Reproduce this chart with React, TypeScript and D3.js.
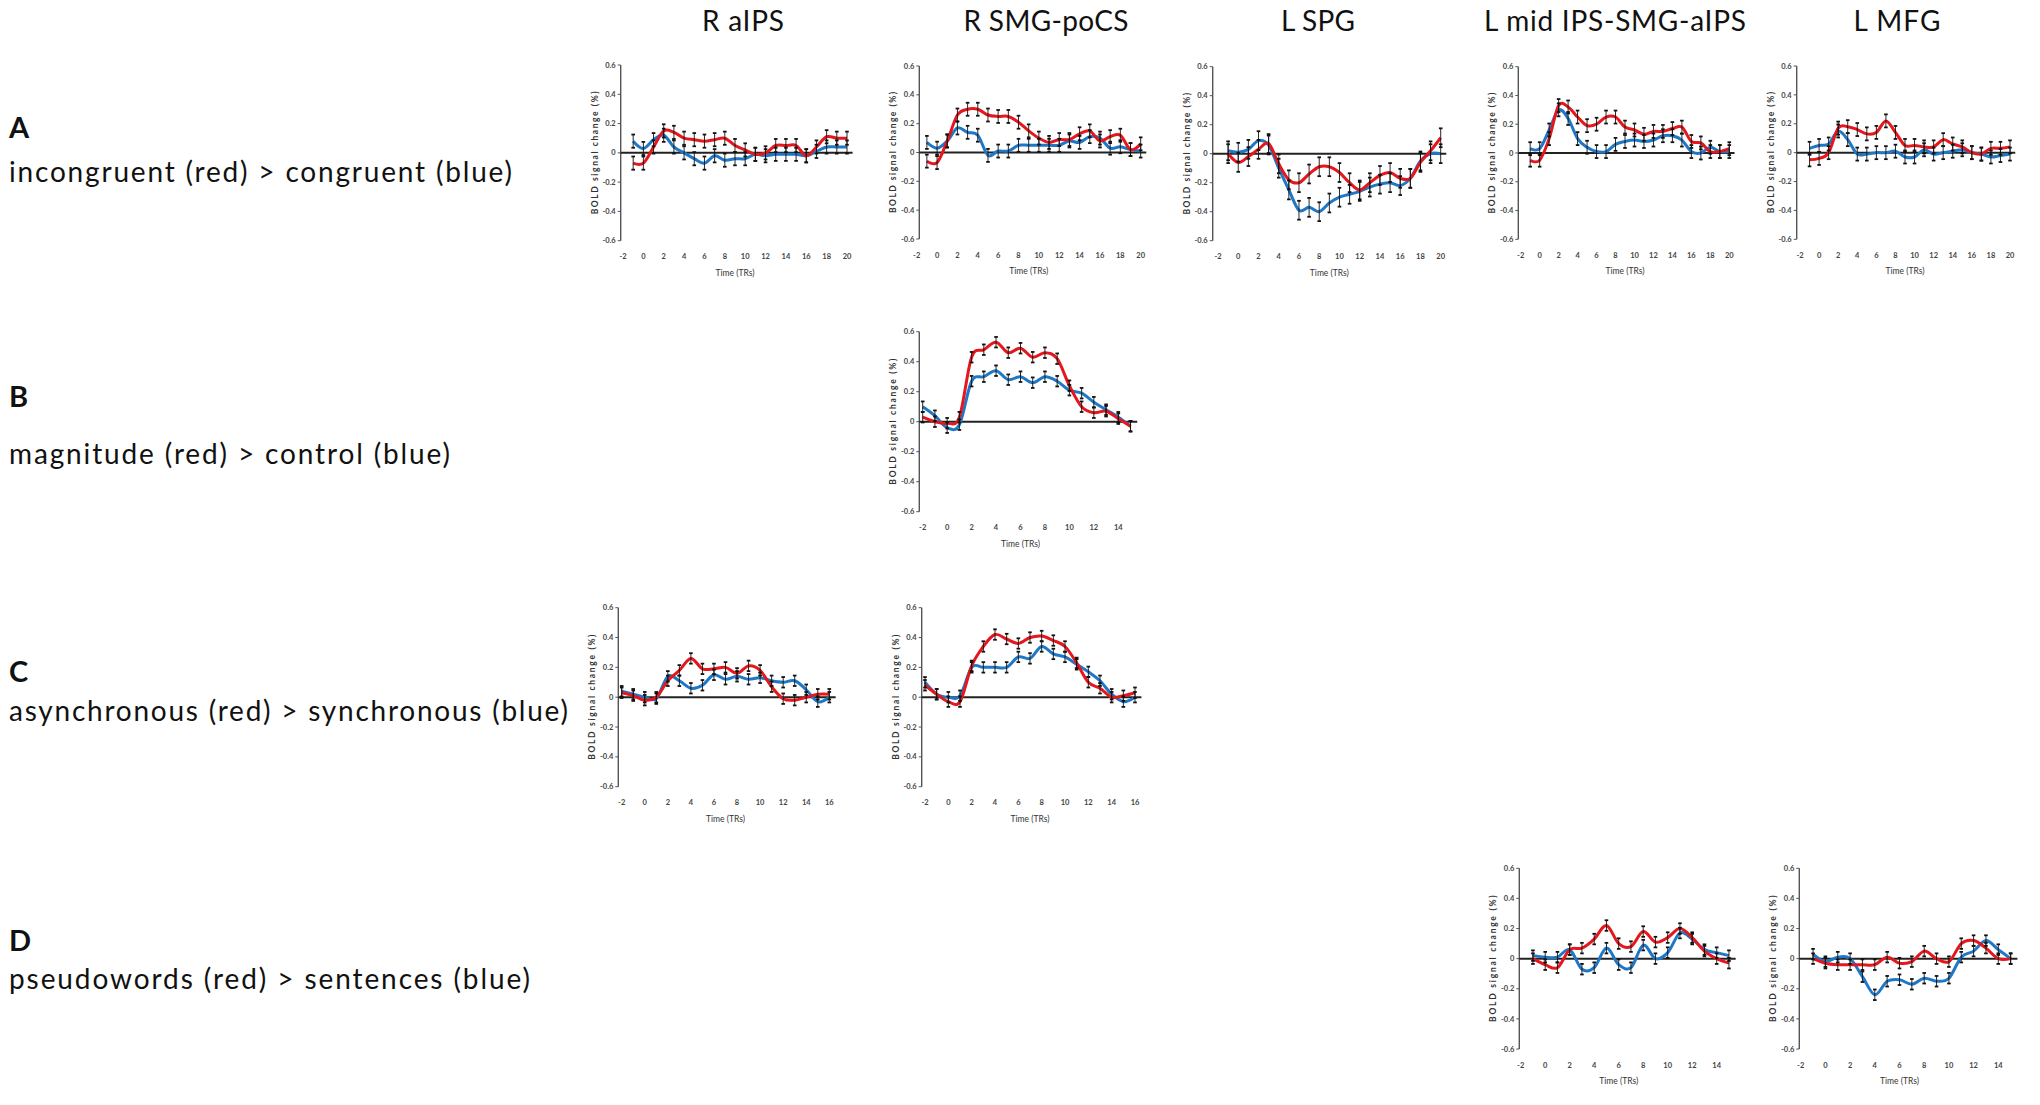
import React from 'react';
import * as d3 from 'd3';

// time points (TRs)
const timeA = [-1, 0, 1, 2, 3, 4, 5, 6, 7, 8, 9, 10, 11, 12, 13, 14, 15, 16, 17, 18, 19, 20];
const timeB = [-2, -1, 0, 1, 2, 3, 4, 5, 6, 7, 8, 9, 10, 11, 12, 13, 14, 15];
const timeC = [-2, -1, 0, 1, 2, 3, 4, 5, 6, 7, 8, 9, 10, 11, 12, 13, 14, 15, 16];
const timeD = [-1, 0, 1, 2, 3, 4, 5, 6, 7, 8, 9, 10, 11, 12, 13, 14, 15];

const ticksA = [-2, 0, 2, 4, 6, 8, 10, 12, 14, 16, 18, 20];
const ticksBD = [-2, 0, 2, 4, 6, 8, 10, 12, 14];
const ticksC = [-2, 0, 2, 4, 6, 8, 10, 12, 14, 16];
const yTicks = [0.6, 0.4, 0.2, 0, -0.2, -0.4, -0.6];
const yTickLabels = ['0.6', '0.4', '0.2', '0', '-0.2', '-0.4', '-0.6'];

const titles = ['R aIPS', 'R SMG-poCS', 'L SPG', 'L mid IPS-SMG-aIPS', 'L MFG'];
const rowLetters = ['A', 'B', 'C', 'D'];
const rowTexts = [
  'incongruent (red) > congruent (blue)',
  'magnitude (red) > control (blue)',
  'asynchronous (red) > synchronous (blue)',
  'pseudowords (red) > sentences (blue)',
];

// A: incongruent (red) vs congruent (blue)
const aAipsRed = [-0.07, -0.07, 0.04, 0.15, 0.14, 0.10, 0.09, 0.08, 0.09, 0.10, 0.05, 0.02, -0.01, 0.0, 0.05, 0.05, 0.05, -0.02, 0.04, 0.11, 0.10, 0.10];
const aAipsBlue = [0.08, 0.03, 0.09, 0.12, 0.04, 0.0, -0.04, -0.07, -0.02, -0.05, -0.04, -0.04, -0.01, -0.02, -0.01, -0.01, -0.01, -0.02, 0.01, 0.04, 0.04, 0.04];
const aSmgRed = [-0.06, -0.07, 0.08, 0.26, 0.30, 0.30, 0.26, 0.25, 0.25, 0.21, 0.15, 0.10, 0.07, 0.09, 0.09, 0.13, 0.15, 0.08, 0.11, 0.12, 0.02, 0.06];
const aSmgBlue = [0.07, 0.03, 0.08, 0.17, 0.14, 0.12, -0.02, 0.01, 0.01, 0.05, 0.05, 0.05, 0.05, 0.05, 0.08, 0.07, 0.11, 0.10, 0.03, 0.04, 0.02, 0.01];
const aSpgRed = [0.0, -0.06, -0.02, 0.03, 0.07, -0.07, -0.18, -0.20, -0.14, -0.09, -0.09, -0.13, -0.20, -0.25, -0.20, -0.15, -0.13, -0.17, -0.17, -0.06, 0.02, 0.11];
const aSpgBlue = [0.02, 0.01, 0.03, 0.09, 0.06, -0.10, -0.25, -0.39, -0.37, -0.40, -0.34, -0.30, -0.28, -0.26, -0.23, -0.21, -0.20, -0.22, -0.17, -0.05, 0.0, 0.0];
const aMidRed = [-0.05, -0.05, 0.10, 0.33, 0.32, 0.25, 0.19, 0.20, 0.25, 0.25, 0.18, 0.16, 0.13, 0.15, 0.15, 0.17, 0.18, 0.08, 0.07, 0.01, 0.01, 0.03];
const aMidBlue = [0.03, 0.03, 0.16, 0.30, 0.24, 0.10, 0.04, 0.01, 0.01, 0.06, 0.08, 0.09, 0.08, 0.09, 0.12, 0.12, 0.09, 0.01, 0.0, 0.04, 0.01, 0.01];
const aMfgRed = [-0.05, -0.04, 0.0, 0.17, 0.18, 0.16, 0.13, 0.14, 0.22, 0.14, 0.05, 0.05, 0.04, 0.04, 0.09, 0.06, 0.04, 0.0, -0.01, 0.03, 0.03, 0.04];
const aMfgBlue = [0.03, 0.05, 0.06, 0.15, 0.09, -0.01, -0.01, 0.0, 0.0, 0.01, -0.03, -0.03, 0.02, -0.01, 0.0, 0.01, 0.02, 0.0, -0.01, -0.03, -0.02, -0.01];

// B: magnitude (red) vs control (blue)
const bSmgRed = [0.03, 0.0, -0.01, 0.03, 0.43, 0.48, 0.53, 0.46, 0.49, 0.43, 0.46, 0.42, 0.24, 0.10, 0.06, 0.07, 0.02, -0.03];
const bSmgBlue = [0.10, 0.04, -0.04, -0.02, 0.27, 0.30, 0.34, 0.28, 0.30, 0.26, 0.30, 0.27, 0.21, 0.19, 0.13, 0.08, 0.03, -0.03];

// C: asynchronous (red) vs synchronous (blue)
const cAipsRed = [0.03, 0.01, -0.02, 0.0, 0.11, 0.18, 0.26, 0.19, 0.19, 0.20, 0.16, 0.21, 0.18, 0.07, -0.01, -0.02, 0.0, 0.02, 0.02];
const cAipsBlue = [0.04, 0.02, 0.0, -0.01, 0.14, 0.11, 0.06, 0.08, 0.15, 0.12, 0.14, 0.12, 0.13, 0.11, 0.10, 0.11, 0.05, -0.03, 0.0];
const cSmgRed = [0.08, 0.02, -0.03, -0.03, 0.21, 0.34, 0.42, 0.39, 0.36, 0.40, 0.41, 0.38, 0.34, 0.23, 0.10, 0.06, 0.0, 0.01, 0.03];
const cSmgBlue = [0.10, 0.02, 0.0, 0.01, 0.20, 0.20, 0.20, 0.20, 0.27, 0.26, 0.34, 0.29, 0.27, 0.22, 0.17, 0.11, 0.02, -0.03, 0.0];

// D: pseudowords (red) vs sentences (blue)
const dMidRed = [0.0, -0.04, -0.06, 0.06, 0.07, 0.13, 0.22, 0.10, 0.08, 0.18, 0.11, 0.14, 0.20, 0.14, 0.05, 0.0, -0.03];
const dMidBlue = [0.02, 0.01, 0.01, 0.06, -0.07, -0.06, 0.07, -0.04, -0.06, 0.09, 0.0, 0.04, 0.17, 0.13, 0.06, 0.04, 0.02];
const dMfgRed = [0.0, -0.03, -0.04, -0.04, -0.04, -0.04, 0.01, -0.03, -0.02, 0.05, 0.0, -0.02, 0.10, 0.12, 0.07, 0.0, 0.0];
const dMfgBlue = [0.03, -0.02, 0.01, 0.0, -0.12, -0.24, -0.15, -0.14, -0.17, -0.13, -0.15, -0.13, 0.01, 0.05, 0.12, 0.06, 0.0];

// error bar half-widths (approx. SEM)
const errA = [0.045, 0.045, 0.065, 0.045, 0.045];
const errB = 0.035;
const errC = 0.035;
const errD = 0.035;

const RED = '#e5171d';
const BLUE = '#1f78c6';
const FONT = 'Lato, "Open Sans", sans-serif';

type PanelSpec = {
  time: number[];
  red: number[];
  blue: number[];
  err: number;
  ticks: number[];
  tickMax: number;
  axisX: number;
  x0: number;
  x1: number;
  top: number;
  bottom: number;
};

const panels: PanelSpec[] = [
  { time: timeA, red: aAipsRed, blue: aAipsBlue, err: errA[0], ticks: ticksA, tickMax: 20, axisX: 620.7, x0: 623, x1: 847, top: 65, bottom: 240.7 },
  { time: timeA, red: aSmgRed, blue: aSmgBlue, err: errA[1], ticks: ticksA, tickMax: 20, axisX: 919.3, x0: 916.7, x1: 1140.7, top: 66, bottom: 239 },
  { time: timeA, red: aSpgRed, blue: aSpgBlue, err: errA[2], ticks: ticksA, tickMax: 20, axisX: 1212.7, x0: 1218, x1: 1440.7, top: 66.7, bottom: 240.7 },
  { time: timeA, red: aMidRed, blue: aMidBlue, err: errA[3], ticks: ticksA, tickMax: 20, axisX: 1518.3, x0: 1520.7, x1: 1729.3, top: 66.7, bottom: 239.3 },
  { time: timeA, red: aMfgRed, blue: aMfgBlue, err: errA[4], ticks: ticksA, tickMax: 20, axisX: 1796.7, x0: 1800, x1: 2010, top: 66, bottom: 239.3 },
  { time: timeB, red: bSmgRed, blue: bSmgBlue, err: errB, ticks: ticksBD, tickMax: 14, axisX: 919.3, x0: 922.7, x1: 1118.3, top: 331.7, bottom: 511.7 },
  { time: timeC, red: cAipsRed, blue: cAipsBlue, err: errC, ticks: ticksC, tickMax: 16, axisX: 618.3, x0: 621.7, x1: 829.3, top: 607.7, bottom: 786.7 },
  { time: timeC, red: cSmgRed, blue: cSmgBlue, err: errC, ticks: ticksC, tickMax: 16, axisX: 921.7, x0: 925, x1: 1135, top: 607.7, bottom: 786.7 },
  { time: timeD, red: dMidRed, blue: dMidBlue, err: errD, ticks: ticksBD, tickMax: 14, axisX: 1519.3, x0: 1520.7, x1: 1716.7, top: 868.3, bottom: 1049 },
  { time: timeD, red: dMfgRed, blue: dMfgBlue, err: errD, ticks: ticksBD, tickMax: 14, axisX: 1799.3, x0: 1800.7, x1: 1998.3, top: 868.3, bottom: 1049 },
];

const titlePos = [
  { x: 743, len: 82 },
  { x: 1046, len: 165 },
  { x: 1318, len: 74 },
  { x: 1615, len: 262 },
  { x: 1897, len: 87 },
];
const rowPos = [
  { letterY: 138, textY: 182, len: 503 },
  { letterY: 407, textY: 464, len: 441 },
  { letterY: 682, textY: 721, len: 559 },
  { letterY: 951, textY: 989, len: 521 },
];

function Panel({ p }: { p: PanelSpec }) {
  const x = d3.scaleLinear().domain([-2, p.tickMax]).range([p.x0, p.x1]);
  const y = d3.scaleLinear().domain([-0.6, 0.6]).range([p.bottom, p.top]);
  const line = d3
    .line<number>()
    .x((_, i) => x(p.time[i]))
    .y((d) => y(d))
    .curve(d3.curveCardinal.tension(0));
  const zeroEnd = x(p.time[p.time.length - 1] + 0.55);
  const midY = (p.top + p.bottom) / 2;

  const errBars = (vals: number[], key: string) =>
    vals.map((v, i) => {
      const cx = x(p.time[i]);
      const y1 = y(v + p.err);
      const y2 = y(v - p.err);
      return (
        <g key={key + i}>
          <line x1={cx} x2={cx} y1={y1} y2={y2} stroke="#111" strokeWidth={0.9} />
          <line x1={cx - 1.8} x2={cx + 1.8} y1={y1} y2={y1} stroke="#111" strokeWidth={1.8} />
          <line x1={cx - 1.8} x2={cx + 1.8} y1={y2} y2={y2} stroke="#111" strokeWidth={1.8} />
        </g>
      );
    });

  return (
    <g>
      {/* y axis */}
      <line x1={p.axisX} x2={p.axisX} y1={p.top} y2={p.bottom} stroke="#555" strokeWidth={1.4} />
      {yTicks.map((t, i) => (
        <g key={'yt' + i}>
          <line x1={p.axisX - 3} x2={p.axisX} y1={y(t)} y2={y(t)} stroke="#555" strokeWidth={1} />
          <text
            x={p.axisX - 5}
            y={y(t)}
            dy="0.35em"
            textAnchor="end"
            fontSize={7.5}
            fontWeight="bold"
            fill="#444"
            fontFamily={FONT}
          >
            {yTickLabels[i]}
          </text>
        </g>
      ))}
      <text
        transform={`translate(${p.axisX - 26},${midY}) rotate(-90)`}
        textAnchor="middle"
        dy="0.35em"
        fontSize={8.5}
        fontWeight="bold"
        fill="#333"
        fontFamily={FONT}
        textLength={(p.bottom - p.top) * 0.7}
      >
        BOLD signal change (%)
      </text>
      {/* zero line */}
      <line x1={p.axisX} x2={zeroEnd} y1={y(0)} y2={y(0)} stroke="#222" strokeWidth={2} />
      {/* x tick labels */}
      {p.ticks.map((t) => (
        <text
          key={'xt' + t}
          x={x(t)}
          y={p.bottom + 16}
          dy="0.35em"
          textAnchor="middle"
          fontSize={7.5}
          fontWeight="bold"
          fill="#444"
          fontFamily={FONT}
        >
          {t}
        </text>
      ))}
      <text
        x={(p.x0 + p.x1) / 2}
        y={p.bottom + 32}
        dy="0.35em"
        textAnchor="middle"
        fontSize={8.5}
        fill="#333"
        fontFamily={FONT}
      >
        Time (TRs)
      </text>
      {/* series */}
      <path d={line(p.blue) || ''} fill="none" stroke={BLUE} strokeWidth={3} />
      <path d={line(p.red) || ''} fill="none" stroke={RED} strokeWidth={3} />
      {errBars(p.blue, 'eb')}
      {errBars(p.red, 'er')}
    </g>
  );
}

export default function App() {
  return (
    <svg
      width={2040}
      height={1105}
      style={{ position: 'absolute', left: 0, top: 0, background: 'white' }}
    >
      <rect width={2040} height={1105} fill="white" />
      {titles.map((t, i) => (
        <text
          key={t}
          x={titlePos[i].x}
          y={31}
          textAnchor="middle"
          fontSize={28}
          fill="#111"
          fontFamily={FONT}
          textLength={titlePos[i].len}
        >
          {t}
        </text>
      ))}
      {rowLetters.map((l, i) => (
        <g key={l}>
          <text x={9} y={rowPos[i].letterY} fontSize={29} fontWeight="bold" fill="#111" fontFamily={FONT}>
            {l}
          </text>
          <text
            x={9}
            y={rowPos[i].textY}
            fontSize={28}
            fill="#111"
            fontFamily={FONT}
            textLength={rowPos[i].len}
          >
            {rowTexts[i]}
          </text>
        </g>
      ))}
      {panels.map((p, i) => (
        <Panel key={i} p={p} />
      ))}
    </svg>
  );
}
